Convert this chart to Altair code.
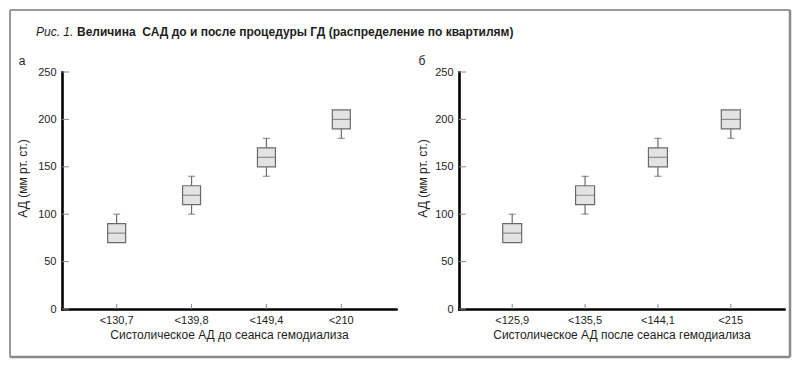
import altair as alt
import pandas as pd

# ---- data ----
cats_before = ["<130,7", "<139,8", "<149,4", "<210"]
cats_after = ["<125,9", "<135,5", "<144,1", "<215"]

q1_before = [70, 110, 150, 190]
med_before = [80, 120, 160, 200]
q3_before = [90, 130, 170, 210]
wlo_before = [70, 100, 140, 180]
whi_before = [100, 140, 180, 210]

q1_after = [70, 110, 150, 190]
med_after = [80, 120, 160, 200]
q3_after = [90, 130, 170, 210]
wlo_after = [70, 100, 140, 180]
whi_after = [100, 140, 180, 210]

y_ticks = [0, 50, 100, 150, 200, 250]

title_italic = "Рис. 1."
title_bold = "Величина\u00a0 САД до и после процедуры ГД (распределение по квартилям)"
y_title = "АД (мм рт. ст.)"
x_title_before = "Систолическое АД до сеанса гемодиализа"
x_title_after = "Систолическое АД после сеанса гемодиализа"

FONT = "Liberation Sans"
TXT = "#1e1e1e"
H = 237


def panel(cats, q1, med, q3, wlo, whi, width, box_w, letter, xtitle, ytitle_x, extra=None):
    box_df = pd.DataFrame({"cat": cats, "q1": q1, "med": med, "q3": q3})
    wrows, caps = [], []
    for c, a, b, lo, hi in zip(cats, q1, q3, wlo, whi):
        if hi > b:
            wrows.append({"cat": c, "s": b, "e": hi})
            caps.append({"cat": c, "v": hi})
        if lo < a:
            wrows.append({"cat": c, "s": lo, "e": a})
            caps.append({"cat": c, "v": lo})
    w_df = pd.DataFrame(wrows)
    c_df = pd.DataFrame(caps)
    cat_df = pd.DataFrame({"cat": cats})
    yt_df = pd.DataFrame({"v": y_ticks})

    xenc = alt.X(
        "cat:N", sort=cats, title=xtitle,
        scale=alt.Scale(paddingInner=0, paddingOuter=0.23),
        axis=alt.Axis(labelAngle=0, ticks=False, labelPadding=5, titlePadding=4),
    )
    yscale = alt.Scale(domain=[0, 250], nice=False)
    yaxis = alt.Axis(values=y_ticks, ticks=False, labelPadding=6,
                     titleX=ytitle_x, titleY=106, titleAngle=270,
                     titleAlign="center", titleBaseline="middle")

    def Y(f):
        return alt.Y(f, scale=yscale, axis=yaxis, title=y_title)

    whisk = alt.Chart(w_df).mark_rule(color="#6a6a6a", strokeWidth=1.2).encode(
        x=xenc, y=Y("s:Q"), y2="e:Q")
    cap = alt.Chart(c_df).mark_tick(color="#6a6a6a", size=7, thickness=1.2).encode(
        x=xenc, y=Y("v:Q"))
    box = alt.Chart(box_df).mark_bar(size=box_w, fill="#e3e3e3", stroke="#6a6a6a",
                                     strokeWidth=1.2).encode(
        x=xenc, y=Y("q1:Q"), y2="q3:Q")
    medm = alt.Chart(box_df).mark_tick(color="#6a6a6a", size=box_w, thickness=1.2).encode(
        x=xenc, y=Y("med:Q"))
    xt = alt.Chart(cat_df).mark_rule(color="#8a8a8a", strokeWidth=1).encode(
        x=xenc, y=alt.value(H), y2=alt.value(H - 5))
    ytk = alt.Chart(yt_df).mark_rule(color="#8a8a8a", strokeWidth=1).encode(
        y=Y("v:Q"), x=alt.value(0), x2=alt.value(7))
    lab = alt.Chart(alt.Data(values=[{}])).mark_text(
        font=FONT, fontSize=12, color=TXT, align="center", baseline="middle").encode(
        x=alt.value(ytitle_x), y=alt.value(-11), text=alt.value(letter))

    layers = [whisk, cap, box, medm, xt, ytk, lab]
    if extra:
        layers += extra
    return alt.layer(*layers).properties(width=width, height=H)


one = alt.Data(values=[{}])
frame = [
    alt.Chart(one).mark_rule(color="#9a9a9a", strokeWidth=2).encode(
        x=alt.value(-52), y=alt.value(-62), y2=alt.value(285)),
    alt.Chart(one).mark_rule(color="#9a9a9a", strokeWidth=2).encode(
        x=alt.value(-52), x2=alt.value(728), y=alt.value(-62)),
    alt.Chart(one).mark_rule(color="#8a8a8a", strokeWidth=2.5).encode(
        x=alt.value(728), y=alt.value(-62), y2=alt.value(285)),
    alt.Chart(one).mark_rule(color="#8a8a8a", strokeWidth=2.5).encode(
        x=alt.value(-52), x2=alt.value(728), y=alt.value(285)),
    alt.Chart(one).mark_text(font=FONT, fontSize=12, fontStyle="italic", color=TXT,
                             align="left", baseline="middle").encode(
        x=alt.value(-26), y=alt.value(-40), text=alt.value(title_italic)),
    alt.Chart(one).mark_text(font=FONT, fontSize=12, fontWeight="bold", color=TXT,
                             align="left", baseline="middle").encode(
        x=alt.value(15), y=alt.value(-40), text=alt.value(title_bold)),
]

left = panel(cats_before, q1_before, med_before, q3_before, wlo_before, whi_before,
             334, 18, "а", x_title_before, -40, extra=frame)
right = panel(cats_after, q1_after, med_after, q3_after, wlo_after, whi_after,
              325, 19, "б", x_title_after, -37)

chart = alt.hconcat(left, right, spacing=63, bounds="flush").properties(
    padding=0
).configure_view(strokeWidth=0).configure_axis(
    domainColor="#000000", domainWidth=2.6, domainCap="square", grid=False,
    labelFont=FONT, labelFontSize=11, labelColor=TXT,
    titleFont=FONT, titleFontSize=12, titleFontWeight="normal", titleColor=TXT,
)

chart.save("out.html", embed_options={"renderer": "svg", "actions": False})
